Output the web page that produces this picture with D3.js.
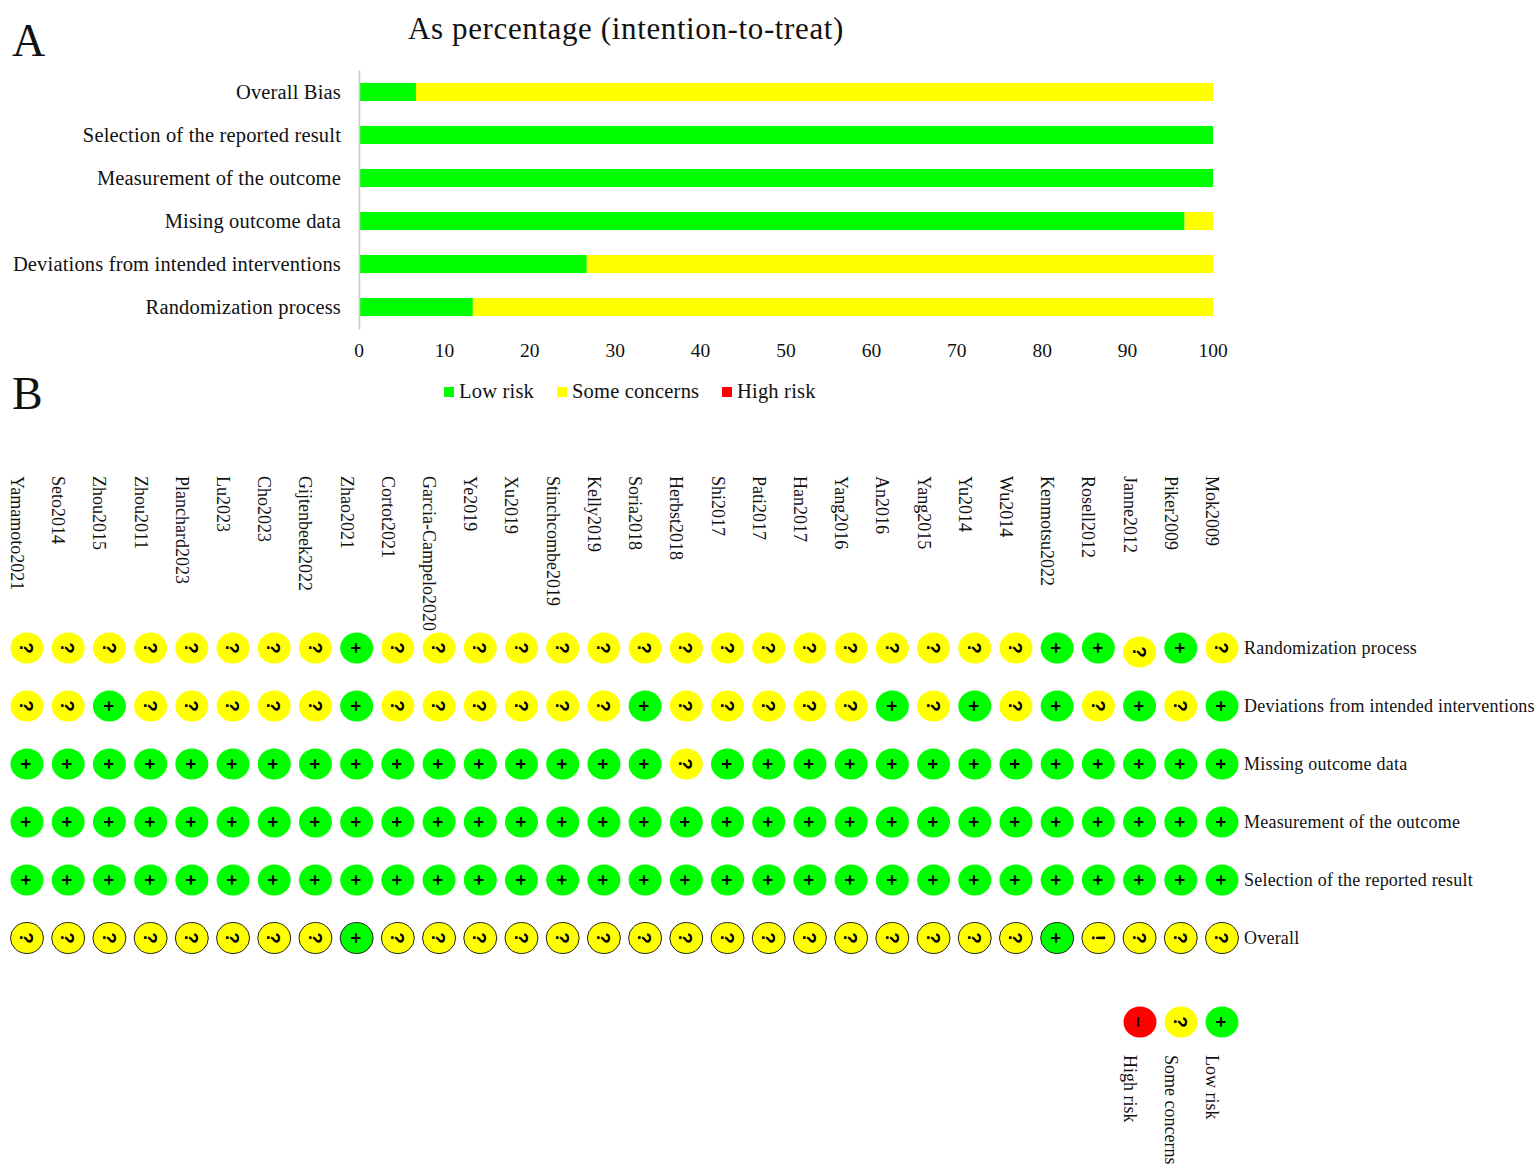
<!DOCTYPE html>
<html>
<head>
<meta charset="utf-8">
<script src="https://cdn.jsdelivr.net/npm/d3@7"></script>
<style>
  html, body { margin: 0; padding: 0; background: #fff; }
  svg { display: block; }
  text { font-family: "Liberation Serif", "Times New Roman", serif; fill: #111; }
  .axis .domain { stroke: #c8c8c8; stroke-width: 1.5; }
  .axis line { display: none; }
</style>
</head>
<body>
<div id="chart"></div>
<script>
// Panel A: percentages per domain
const domains = ["Overall Bias", "Selection of the reported result", "Measurement of the outcome", "Mising outcome data", "Deviations from intended interventions", "Randomization process"];
const lowRisk = [6.67, 100, 100, 96.67, 26.67, 13.33];
const someConcerns = [93.33, 0, 0, 3.33, 73.33, 86.67];
const highRisk = [0, 0, 0, 0, 0, 0];
const xTicks = [0, 10, 20, 30, 40, 50, 60, 70, 80, 90, 100];
const riskLabels = ["Low risk", "Some concerns", "High risk"];

// Panel B: judgements per study, one list per row
const studies = ["Yamamoto2021", "Seto2014", "Zhou2015", "Zhou2011", "Planchard2023", "Lu2023", "Cho2023", "Gijtenbeek2022", "Zhao2021", "Cortot2021", "Garcia-Campelo2020", "Ye2019", "Xu2019", "Stinchcombe2019", "Kelly2019", "Soria2018", "Herbst2018", "Shi2017", "Pati2017", "Han2017", "Yang2016", "An2016", "Yang2015", "Yu2014", "Wu2014", "Kenmotsu2022", "Rosell2012", "Janne2012", "Piker2009", "Mok2009"];
const rowNames = ["Randomization process", "Deviations from intended interventions", "Missing outcome data", "Measurement of the outcome", "Selection of the reported result", "Overall"];
const randomization = ["?","?","?","?","?","?","?","?","+","?","?","?","?","?","?","?","?","?","?","?","?","?","?","?","?","+","+","?","+","?"];
const deviations    = ["?","?","+","?","?","?","?","?","+","?","?","?","?","?","?","+","?","?","?","?","?","+","?","+","?","+","?","+","?","+"];
const missing       = ["+","+","+","+","+","+","+","+","+","+","+","+","+","+","+","+","?","+","+","+","+","+","+","+","+","+","+","+","+","+"];
const measurement   = ["+","+","+","+","+","+","+","+","+","+","+","+","+","+","+","+","+","+","+","+","+","+","+","+","+","+","+","+","+","+"];
const selection     = ["+","+","+","+","+","+","+","+","+","+","+","+","+","+","+","+","+","+","+","+","+","+","+","+","+","+","+","+","+","+"];
const overall       = ["?","?","?","?","?","?","?","?","+","?","?","?","?","?","?","?","?","?","?","?","?","?","?","?","?","+","!","?","?","?"];
const judgements = [randomization, deviations, missing, measurement, selection, overall];
const keyItems = [["\u2013", "High risk"], ["?", "Some concerns"], ["+", "Low risk"]];

const GREEN = "#00ff00", YELLOW = "#ffff00", RED = "#ff0000";
const judgeFill = { "+": GREEN, "?": YELLOW, "!": YELLOW, "\u2013": RED };

const svg = d3.select("#chart").append("svg")
  .attr("width", 1535).attr("height", 1165);

// Panel letters and title
svg.append("text").attr("x", 12).attr("y", 56).attr("font-size", 46).text("A");
svg.append("text").attr("x", 12).attr("y", 409).attr("font-size", 46).text("B");
svg.append("text").attr("x", 408).attr("y", 38.5).attr("font-size", 31).attr("letter-spacing", 0.62)
  .text("As percentage (intention-to-treat)");

// --- Panel A ---
const x = d3.scaleLinear().domain([0, 100]).range([359, 1213]);
const y = d3.scaleBand().domain(domains).range([70, 329]).paddingInner(0.58).paddingOuter(0.3);

const stacked = domains.map((d, i) => ({ name: d, values: [lowRisk[i], someConcerns[i], highRisk[i]] }));
const colours = [GREEN, YELLOW, RED];

stacked.forEach(row => {
  let start = 0;
  row.values.forEach((v, k) => {
    svg.append("rect")
      .attr("x", x(start)).attr("y", y(row.name))
      .attr("width", x(start + v) - x(start)).attr("height", y.bandwidth())
      .attr("fill", colours[k]);
    start += v;
  });
});

svg.append("g").attr("class", "axis")
  .attr("transform", "translate(359,0)")
  .call(d3.axisLeft(y).tickSize(0).tickSizeOuter(0).tickPadding(18))
  .call(g => g.selectAll("text").attr("font-size", 20.5).attr("font-family", null).attr("letter-spacing", 0.17).attr("dy", "0.32em"));

svg.append("g").attr("class", "axis")
  .attr("transform", "translate(-0.5,329)")
  .call(d3.axisBottom(x).tickValues(xTicks).tickSize(0).tickPadding(14))
  .call(g => g.select(".domain").remove())
  .call(g => g.selectAll("text").attr("font-size", 19.5).attr("font-family", null));

// Legend under the bars
const legendX = d3.scaleOrdinal().domain(riskLabels).range([444, 557, 722]);
riskLabels.forEach((label, i) => {
  svg.append("rect").attr("x", legendX(label)).attr("y", 387).attr("width", 10).attr("height", 10).attr("fill", colours[i]);
  svg.append("text").attr("x", legendX(label) + 15).attr("y", 398).attr("font-size", 20.5).attr("letter-spacing", 0.2).text(label);
});

// --- Panel B ---
const col = d3.scalePoint().domain(studies).range([27, 1222]);
const row = d3.scalePoint().domain(rowNames).range([648, 938]);

function drawMark(g, cx, cy, code, outlined) {
  g.append("ellipse")
    .attr("cx", cx).attr("cy", cy).attr("rx", 16.5).attr("ry", 15.5)
    .attr("fill", judgeFill[code])
    .attr("stroke", outlined ? "#222" : "none").attr("stroke-width", 1);
  g.append("text")
    .attr("transform", `translate(${cx},${cy}) rotate(90)`)
    .attr("text-anchor", "middle").attr("dy", "0.36em")
    .attr("font-size", 19).attr("font-weight", 700)
    .style("font-family", "'Liberation Sans', Arial, sans-serif")
    .style("fill", "#000")
    .text(code);
}

const marks = svg.append("g");
rowNames.forEach((name, r) => {
  studies.forEach((study, c) => {
    // Janne2012 sits a little low in the first row of the source figure
    const nudge = (r === 0 && study === "Janne2012") ? 4 : 0;
    drawMark(marks, col(study), row(name) + nudge, judgements[r][c], name === "Overall");
  });
  svg.append("text").attr("x", 1244).attr("y", row(name)).attr("dy", "0.32em")
    .attr("font-size", 18).attr("letter-spacing", 0.22).text(name);
});

studies.forEach(study => {
  svg.append("text")
    .attr("transform", `translate(${col(study) - 16},476) rotate(90)`)
    .attr("font-size", 18).text(study);
});

// Key, bottom right
const keyX = d3.scalePoint().domain(keyItems.map(d => d[1])).range([1140, 1222]);
keyItems.forEach(([code, label]) => {
  drawMark(marks, keyX(label), 1022, code, false);
  svg.append("text")
    .attr("transform", `translate(${keyX(label) - 16},1055) rotate(90)`)
    .attr("font-size", 18).text(label);
});
</script>
</body>
</html>
